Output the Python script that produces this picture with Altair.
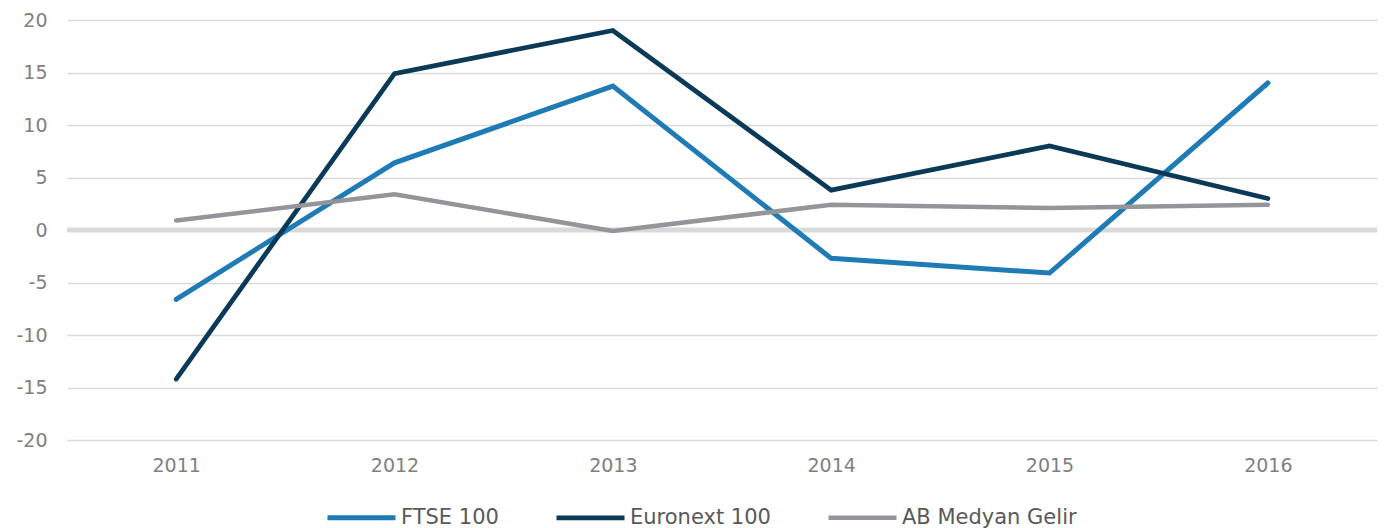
import altair as alt
import pandas as pd

years = ["2011", "2012", "2013", "2014", "2015", "2016"]
series_names = ["FTSE 100", "Euronext 100", "AB Medyan Gelir"]
ftse = [-6.6, 6.4, 13.7, -2.7, -4.1, 14.0]
euronext = [-14.2, 14.9, 19.0, 3.8, 8.0, 3.0]
ab_gelir = [0.9, 3.4, -0.1, 2.4, 2.1, 2.4]
colors = ["#1f7bb6", "#0a3a57", "#939598"]
widths = [5, 4.5, 4]

rows = []
for name, vals in zip(series_names, [ftse, euronext, ab_gelir]):
    for y, v in zip(years, vals):
        rows.append({"Yıl": y, "Seri": name, "Değer": v})
df = pd.DataFrame(rows)

zero = alt.Chart(pd.DataFrame({"z": [0]})).mark_rule(color="#d9d9d9", strokeWidth=5).encode(y="z:Q")

lines = alt.Chart(df).mark_line(strokeCap="round", strokeJoin="miter").encode(
    x=alt.X("Yıl:O", scale=alt.Scale(type="point", padding=0.5),
            axis=alt.Axis(title=None, labelAngle=0, domain=False, ticks=False, grid=False,
                          labelPadding=16, labelFontSize=19, labelColor="#7f7f7f",
                          labelFont="DejaVu Sans")),
    y=alt.Y("Değer:Q", scale=alt.Scale(domain=[-20, 20], nice=False),
            axis=alt.Axis(title=None, values=[-20, -15, -10, -5, 0, 5, 10, 15, 20],
                          domain=False, ticks=False, gridColor="#d9d9d9", gridWidth=1.5,
                          labelPadding=20, labelFontSize=19, labelColor="#7f7f7f",
                          labelFont="DejaVu Sans", labelExpr="toString(datum.value)",
                          minExtent=59, maxExtent=59)),
    color=alt.Color("Seri:N", scale=alt.Scale(domain=series_names, range=colors),
                    legend=alt.Legend(title=None, orient="none", direction="horizontal",
                                      legendX=258, legendY=461, labelLimit=400,
                                      symbolType="stroke", symbolStrokeWidth=5, symbolSize=4624,
                                      labelFontSize=21, labelColor="#595959", labelFont="DejaVu Sans",
                                      labelOffset=3, columnPadding=48)),
    strokeWidth=alt.StrokeWidth("Seri:N", scale=alt.Scale(domain=series_names, range=widths), legend=None),
    order=alt.Order("Yıl:O"),
)

chart = alt.layer(zero, lines).properties(
    width=1310, height=420,
    autosize=alt.AutoSizeParams(type="none"),
    padding={"left": 59, "top": 12, "right": 10, "bottom": 100},
).configure_view(stroke=None)

chart.save("out.html", embed_options={"renderer": "svg", "actions": False})
